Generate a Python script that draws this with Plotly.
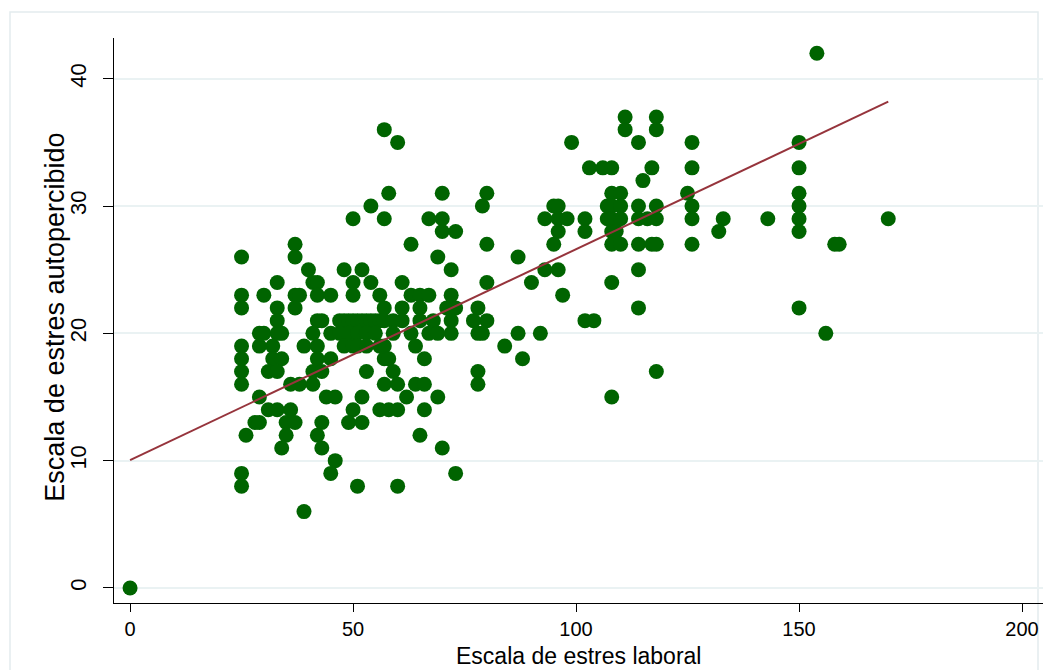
import plotly.graph_objects as go

# Data: (x = Escala de estres laboral, y = Escala de estres autopercibido)
estres_laboral = [
    154,
    111, 118,
    57, 111, 118,
    60, 99, 114, 126, 150,
    103, 106, 108, 117, 126, 150,
    115,
    58, 70, 80, 108, 110, 125, 150,
    54, 79, 95, 96, 107, 108, 110, 114, 118, 126, 150,
    50, 57, 67, 70, 93, 96, 98, 102, 107, 108, 110, 114, 116, 118, 126, 133, 143, 150, 170,
    70, 73, 96, 102, 108, 109, 132, 150,
    37, 63, 80, 95, 108, 110, 114, 117, 118, 126, 158, 159,
    25, 37, 69, 87,
    40, 48, 52, 72, 93, 96, 114,
    33, 41, 42, 50, 54, 61, 80, 90, 108,
    25, 30, 37, 38, 42, 45, 50, 56, 63, 65, 67, 72, 97,
    25, 33, 37, 57, 61, 65, 71, 73, 78, 114, 150,
    33, 42, 43, 47, 48, 49, 50, 51, 52, 53, 54, 55, 56, 57, 59, 61, 65, 68, 72, 77, 80, 102, 104,
    29, 30, 33, 34, 41, 45, 47, 49, 51, 53, 55, 59, 63, 67, 69, 72, 78, 79, 87, 92, 156,
    25, 29, 32, 39, 42, 48, 50, 51, 53, 56, 57, 64, 84,
    25, 32, 34, 42, 45, 57, 58, 66, 88,
    25, 31, 33, 41, 43, 53, 59, 78, 118,
    25, 36, 38, 41, 57, 60, 64, 66, 78,
    29, 44, 46, 52, 62, 69, 108,
    31, 33, 36, 50, 56, 58, 60, 66,
    28, 29, 35, 37, 43, 49, 52,
    26, 35, 42, 65,
    34, 43, 70,
    46,
    25, 45, 73,
    25, 51, 60,
    39,
    0,
]
row_values = [42, 37, 36, 35, 33, 32, 31, 30, 29, 28, 27, 26, 25, 24, 23, 22, 21, 20,
              19, 18, 17, 16, 15, 14, 13, 12, 11, 10, 9, 8, 6, 0]
row_counts = [1, 2, 3, 5, 6, 1, 7, 11, 19, 8, 12, 4, 7, 9, 13, 11, 23, 21,
              13, 9, 9, 9, 7, 8, 7, 4, 3, 1, 3, 3, 1, 1]
estres_autopercibido = []
for v, c in zip(row_values, row_counts):
    estres_autopercibido += [v] * c

# Fitted line
fit_x = [0, 170]
fit_y = [10.05, 38.2]

x_ticks = [0, 50, 100, 150, 200]
y_ticks = [0, 10, 20, 30, 40]
x_title = "Escala de estres laboral"
y_title = "Escala de estres autopercibido"

FONT = "Liberation Sans, Arial, sans-serif"
PLOT_W, PLOT_H = 929, 565
ML, MB = 114, 67
AXIS_BOTTOM_PX = 603

fig = go.Figure()
fig.add_trace(go.Scatter(
    x=estres_laboral, y=estres_autopercibido, mode="markers",
    marker=dict(color="#006400", size=15, line=dict(width=0)),
    showlegend=False, hoverinfo="x+y"))
fig.add_trace(go.Scatter(
    x=fit_x, y=fit_y, mode="lines",
    line=dict(color="#96343C", width=2), showlegend=False))

fig.update_layout(
    width=1057, height=670,
    paper_bgcolor="white", plot_bgcolor="white",
    margin=dict(l=ML, r=14, t=38, b=MB),
    font=dict(family=FONT, size=22, color="black"),
    xaxis=dict(range=[-3.6, 204.7], tickvals=x_ticks, ticktext=[str(t) for t in x_ticks],
               showgrid=False, zeroline=False, showline=True, linecolor="black", linewidth=1,
               ticks="outside", ticklen=8, tickcolor="black", tickfont=dict(size=20),
               automargin=False),
    yaxis=dict(range=[-1.18, 43.2], tickvals=y_ticks, ticktext=[str(t) for t in y_ticks],
               tickangle=-90,
               showgrid=True, gridcolor="#EAF2F3", gridwidth=1.5, zeroline=False,
               showline=True, linecolor="black", linewidth=1,
               ticks="outside", ticklen=10, tickcolor="black", tickfont=dict(size=22),
               ticklabelstandoff=8, automargin=False),
    annotations=[
        dict(text=x_title, xref="paper", yref="paper", x=0.5,
             y=(AXIS_BOTTOM_PX - 670) / PLOT_H,
             xanchor="center", yanchor="bottom", showarrow=False, borderpad=0,
             font=dict(size=23)),
        dict(text=y_title, xref="paper", yref="paper", x=(55 - ML) / PLOT_W, y=0.505,
             xanchor="center", yanchor="middle", textangle=-90, showarrow=False,
             font=dict(size=27)),
    ],
    shapes=[dict(type="rect", xref="paper", yref="paper",
                 x0=(10 - ML) / PLOT_W, x1=(1038 - ML) / PLOT_W,
                 y0=(AXIS_BOTTOM_PX - 700) / PLOT_H, y1=(AXIS_BOTTOM_PX - 12) / PLOT_H,
                 line=dict(color="#E3ECEE", width=1.5), fillcolor="rgba(0,0,0,0)", layer="below")],
)

fig.write_html("out.html", config={"displayModeBar": False},
               post_script="document.body.style.margin='0';")
